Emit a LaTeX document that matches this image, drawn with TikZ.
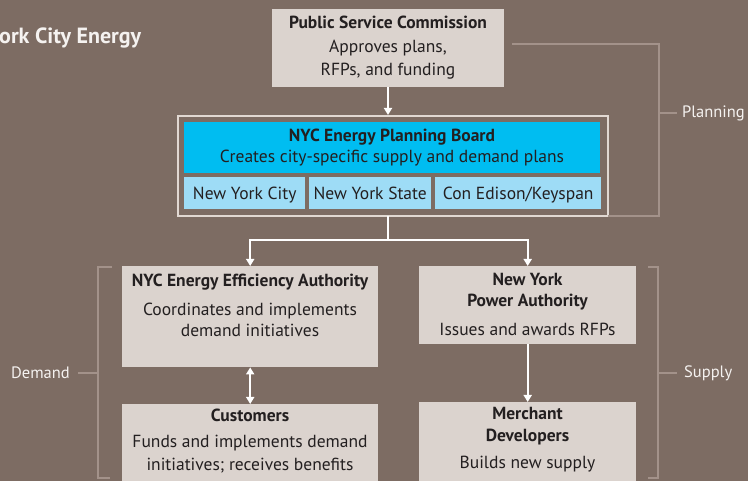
\documentclass[tikz,border=0pt]{standalone}
\usepackage{fontspec}
\setmainfont{PT Sans}
\usetikzlibrary{arrows.meta}
\definecolor{bgc}{RGB}{125,108,99}
\definecolor{boxc}{RGB}{219,211,206}
\definecolor{bluec}{RGB}{0,189,241}
\definecolor{lbluec}{RGB}{158,220,246}
\definecolor{framec}{RGB}{225,216,210}
\definecolor{brc}{RGB}{163,146,138}
\definecolor{txtc}{RGB}{35,31,32}
\definecolor{wtxt}{RGB}{245,242,240}
\begin{document}
\begin{tikzpicture}[x=1pt,y=-1pt,
  boxst/.style={fill=boxc, draw=none, inner sep=0pt, anchor=north west},
  tt/.style={text=txtc, font=\fontsize{17.5}{21}\selectfont\bfseries, inner sep=0pt},
  st/.style={text=txtc, font=\fontsize{17.5}{21.5}\selectfont, align=center, inner sep=0pt},
  wt/.style={text=wtxt, font=\fontsize{16.5}{20}\selectfont, inner sep=0pt},
  wline/.style={draw=white, line width=2pt},
  arr/.style={wline, -{Triangle[width=8pt,length=7pt]}},
  darr/.style={wline, {Triangle[width=8pt,length=7pt]}-{Triangle[width=8pt,length=7pt]}},
  brk/.style={draw=brc, line width=2pt}]
\fill[bgc] (0,0) rectangle (748,481);
\useasboundingbox (0,0) rectangle (748,481);

% title
\node[text=wtxt, font=\fontsize{22}{25}\selectfont\bfseries, anchor=west, inner sep=0pt] (title) at (-1,38) {ork City Energy};

% Public Service Commission
\node[boxst, minimum width=232pt, minimum height=78pt] (psc) at (272,9) {};
\node[tt] (psct) at (388,22) {Public Service Commission};
\node[st, font=\fontsize{17.5}{23}\selectfont] (pscs) at (388,59.5) {Approves plans,\\RFPs, and funding};

% Planning board frame
\node[draw=framec, line width=2pt, minimum width=430pt, minimum height=100pt, inner sep=0pt, anchor=north west] (frame) at (177,115) {};
\node[fill=bluec, minimum width=416pt, minimum height=51pt, inner sep=0pt, anchor=north west] (board) at (184,122) {};
\node[tt] (boardt) at (392,137) {NYC Energy Planning Board};
\node[st] (boards) at (392,158) {Creates city-specific supply and demand plans};
\node[fill=lbluec, minimum width=121pt, minimum height=32pt, inner sep=0pt, anchor=north west] (nyc) at (184,177) {};
\node[fill=lbluec, minimum width=122pt, minimum height=32pt, inner sep=0pt, anchor=north west] (nys) at (309,177) {};
\node[fill=lbluec, minimum width=166pt, minimum height=32pt, inner sep=0pt, anchor=north west] (coned) at (435,177) {};
\node[st, anchor=base] at ([yshift=-6pt]nyc.center) {New York City};
\node[st, anchor=base] at ([yshift=-6pt]nys.center) {New York State};
\node[st, anchor=base] at ([yshift=-6pt]coned.center) {Con Edison/Keyspan};

% lower boxes
\node[boxst, minimum width=256pt, minimum height=101pt] (eea) at (122,266) {};
\node[tt] (eeat) at (250,282) {NYC Energy Efficiency Authority};
\node[st] (eeas) at (250,320) {Coordinates and implements\\demand initiatives};

\node[boxst, minimum width=256pt, minimum height=80pt] (cust) at (122,404) {};
\node[tt] (custt) at (250,415) {Customers};
\node[st, font=\fontsize{17.5}{23}\selectfont] (custs) at (250,454.5) {Funds and implements demand\\initiatives; receives benefits};

\node[boxst, minimum width=217pt, minimum height=78pt] (nypa) at (419,266) {};
\node[st, font=\fontsize{17.5}{21.5}\selectfont\bfseries] (nypat) at (527.5,291.5) {New York\\Power Authority};
\node[st] (nypas) at (527.5,329) {Issues and awards RFPs};

\node[boxst, minimum width=217pt, minimum height=82pt] (merch) at (419,402) {};
\node[st, font=\fontsize{17.5}{21.5}\selectfont\bfseries] (mercht) at (527.5,426) {Merchant\\Developers};
\node[st] (merchs) at (527.5,464) {Builds new supply};

% connectors
\draw[arr] (psc.south -| 388,0) -- (388,115);
\coordinate (j) at (388,240);
\draw[wline] (388,216) -- (j);
\draw[arr] (j) -| (eea.north);
\draw[arr] (j) -| (nypa.north);
\draw[darr] (eea.south) -- (cust.north);
\draw[arr] (nypa.south) -- (merch.north);

% brackets
\node[wt, anchor=west] (plan) at (682,113) {Planning};
\draw[brk] (512,44) -- (659,44) -- (659,216) -- (608,216);
\draw[brk] (659,113) -- (677,113);

\node[wt, anchor=east] (dem) at (70,373) {Demand};
\draw[brk] (112,267) -- (98,267) -- (98,478) -- (110,478);
\draw[brk] (98,373) -- ([xshift=8pt]dem.east);

\node[wt, anchor=west] (sup) at (684,373) {Supply};
\draw[brk] (648,267) -- (658,267) -- (658,478) -- (648,478);
\draw[brk] (658,373) -- ([xshift=-7pt]sup.west);
\end{tikzpicture}
\end{document}
